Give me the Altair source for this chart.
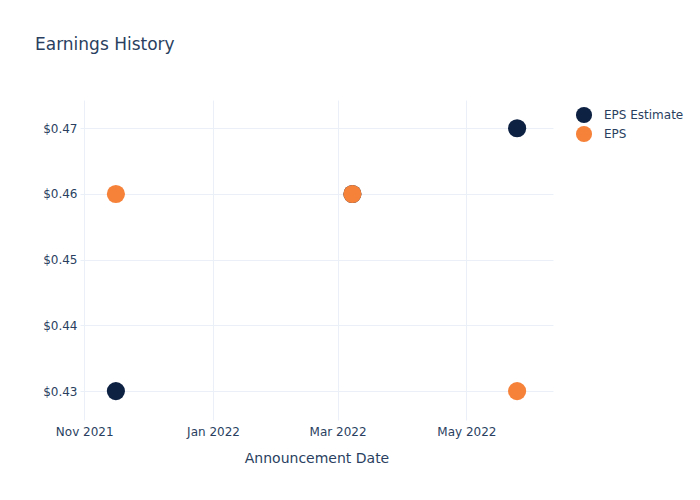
import altair as alt
import pandas as pd

dates = ["2021-11-16", "2022-03-08", "2022-05-25"]
eps_estimate = [0.43, 0.46, 0.47]
eps_actual = [0.46, 0.46, 0.43]
series = ["EPS Estimate", "EPS"]
colors = ["#0d2143", "#f6823a"]

rows = []
for i, s in enumerate(series):
    vals = eps_estimate if s == "EPS Estimate" else eps_actual
    for d, v in zip(dates, vals):
        rows.append({"date": d, "value": v, "series": s, "order": i})
df = pd.DataFrame(rows)

FONT = "DejaVu Sans"
TXT = "#2a3f5f"
GRID = "#ebf0f8"

tick_values = [
    alt.DateTime(year=2021, month=11, date=1, utc=True),
    alt.DateTime(year=2022, month=1, date=1, utc=True),
    alt.DateTime(year=2022, month=3, date=1, utc=True),
    alt.DateTime(year=2022, month=5, date=1, utc=True),
]

chart = (
    alt.Chart(df)
    .mark_circle(opacity=1, size=330)
    .encode(
        x=alt.X(
            "date:T",
            title="Announcement Date",
            scale=alt.Scale(
                type="utc",
                domain=[
                    alt.DateTime(year=2021, month=10, date=30, utc=True),
                    alt.DateTime(year=2022, month=6, date=11, utc=True),
                ],
            ),
            axis=alt.Axis(
                values=tick_values,
                format="%b %Y",
                labelFlush=False,
                grid=True,
                gridColor=GRID,
                domain=False,
                ticks=False,
                labelPadding=6,
                titlePadding=14,
            ),
        ),
        y=alt.Y(
            "value:Q",
            title=None,
            scale=alt.Scale(domain=[0.4256, 0.4743], nice=False, zero=False),
            axis=alt.Axis(
                values=[0.43, 0.44, 0.45, 0.46, 0.47],
                format="$.2f",
                grid=True,
                gridColor=GRID,
                domain=False,
                ticks=False,
                labelPadding=3,
            ),
        ),
        color=alt.Color(
            "series:N",
            scale=alt.Scale(domain=series, range=colors),
            legend=alt.Legend(
                title=None,
                orient="none",
                legendX=495,
                legendY=6,
                symbolType="circle",
                symbolSize=260,
                symbolOpacity=1,
                rowPadding=1,
                labelFontSize=12,
                labelColor=TXT,
                labelFont=FONT,
                labelOffset=11,
            ),
        ),
        order=alt.Order("order:Q"),
    )
    .properties(
        width=473,
        height=320,
        autosize="none",
        padding={"left": 80, "top": 100, "right": 147, "bottom": 80},
        title=alt.TitleParams(
            "Earnings History",
            anchor="start",
            frame="group",
            dx=-45,
            offset=46,
            fontSize=17,
            fontWeight="normal",
            color=TXT,
            font=FONT,
        ),
    )
    .configure_view(stroke=None)
    .configure_axis(
        labelFont=FONT,
        titleFont=FONT,
        labelColor=TXT,
        titleColor=TXT,
        labelFontSize=12,
        titleFontSize=14,
        titleFontWeight="normal",
    )
)

chart.save("out.html", embed_options={"renderer": "svg", "actions": False})
